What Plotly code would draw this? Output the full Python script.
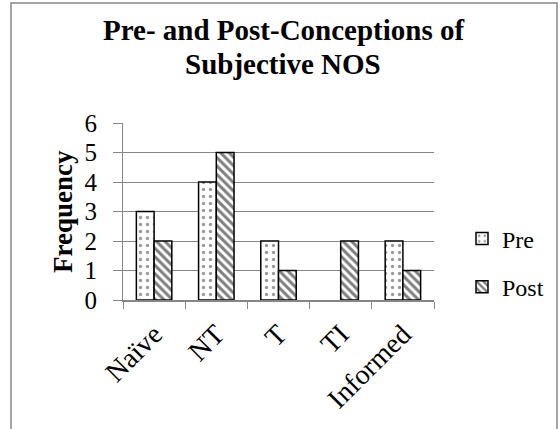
import plotly.graph_objects as go

categories = ["Naïve", "NT", "T", "TI", "Informed"]
pre_values = [3, 4, 2, 0, 2]
post_values = [2, 5, 1, 2, 1]
y_ticks = [0, 1, 2, 3, 4, 5, 6]

FONT = "Liberation Serif"

def outline_widths(vals):
    return [1.5 if v > 0 else 0 for v in vals]

fig = go.Figure()
fig.add_trace(go.Bar(
    x=categories, y=pre_values, name="Pre", legendgroup="pre",
    marker=dict(color="white", line=dict(color="black", width=outline_widths(pre_values)),
                pattern=dict(shape=".", fgcolor="#333333", bgcolor="white",
                             size=7, solidity=0.18)),
))
fig.add_trace(go.Bar(
    x=categories, y=post_values, name="Post", legendgroup="post",
    marker=dict(color="white", line=dict(color="black", width=outline_widths(post_values)),
                pattern=dict(shape="\\", fgcolor="black", bgcolor="white",
                             size=6, solidity=0.5)),
))

L, R, T, B = 123, 434, 123, 300
W, H = 560, 429
pw, ph = R - L, B - T

def px(x):
    return (x - L) / pw

def py(y):
    return (B - y) / ph

fig.update_layout(
    width=W, height=H,
    margin=dict(l=L, r=W - R, t=T, b=H - B, autoexpand=False),
    paper_bgcolor="white", plot_bgcolor="white",
    barmode="group", bargap=0.43, bargroupgap=0,
    font=dict(family=FONT, color="black"),
    showlegend=True,
    legend=dict(x=px(462), y=py(263), xanchor="left", yanchor="middle",
                font=dict(family=FONT, size=24), traceorder="grouped",
                tracegroupgap=14, itemwidth=30, bgcolor="rgba(0,0,0,0)"),
    annotations=[
        dict(text="<b>Pre- and Post-Conceptions of</b>", x=px(283), y=py(30),
             xref="paper", yref="paper", showarrow=False,
             font=dict(family=FONT, size=29), xanchor="center", yanchor="middle"),
        dict(text="<b>Subjective NOS</b>", x=px(283), y=py(64),
             xref="paper", yref="paper", showarrow=False,
             font=dict(family=FONT, size=29), xanchor="center", yanchor="middle"),
        dict(text="<b>Frequency</b>", x=px(63), y=py(212), textangle=-90,
             xref="paper", yref="paper", showarrow=False,
             font=dict(family=FONT, size=27), xanchor="center", yanchor="middle"),
    ],
    shapes=[
        dict(type="rect", xref="paper", yref="paper",
             x0=px(11), x1=px(557), y0=py(440), y1=py(3),
             line=dict(color="#888888", width=1.5), fillcolor="rgba(0,0,0,0)",
             layer="below"),
    ],
)

fig.update_yaxes(
    range=[0, 6], tickvals=y_ticks, showgrid=True, gridcolor="#868686", gridwidth=1,
    showline=True, linecolor="#868686", linewidth=1, automargin=False,
    ticks="outside", ticklen=9, tickcolor="#868686", ticklabelstandoff=11,
    tickfont=dict(family=FONT, size=25), zeroline=False,
)
fig.update_xaxes(
    showline=True, linecolor="#868686", linewidth=1.5, automargin=False,
    ticks="outside", ticklen=7, tickcolor="#868686", tickson="boundaries",
    tickangle=-45, ticklabelstandoff=5, tickfont=dict(family=FONT, size=28),
)

fig.write_html(
    "out.html",
    config={"displayModeBar": False},
    post_script="document.body.style.margin='0';document.body.style.overflow='hidden';",
)
